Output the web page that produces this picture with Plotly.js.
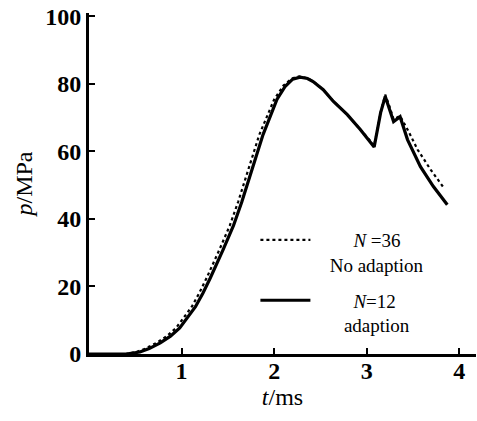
<!DOCTYPE html>
<html>
<head>
<meta charset="utf-8">
<script src="https://cdn.plot.ly/plotly-3.0.1.min.js"></script>
<style>html,body{margin:0;padding:0;background:#fff;}#chart{width:477px;height:421px;}</style>
</head>
<body>
<div id="chart"></div>
<script>
// N=12, adaption (solid)
const tSolid = [0, 0.4, 0.55, 0.65, 0.77, 0.88, 0.98, 1.06, 1.15, 1.23, 1.31, 1.45, 1.56, 1.65, 1.74, 1.88, 2.03, 2.12, 2.2, 2.28, 2.36, 2.42, 2.53, 2.64, 2.79, 2.93, 3.08, 3.15, 3.2, 3.25, 3.29, 3.36, 3.44, 3.58, 3.72, 3.87];
const pSolid = [0, 0, 0.6, 1.6, 3.3, 5.3, 7.7, 10.5, 14, 18, 22.5, 31, 38, 45, 53, 65, 75.4, 79.3, 81.4, 82, 81.6, 80.7, 78.3, 74.8, 70.9, 66.5, 61.3, 71.5, 76.3, 72.4, 68.8, 70.3, 63.5, 55.5, 49.6, 44.2];
// N=36, no adaption (dotted)
const tDot = [0, 0.4, 0.51, 0.61, 0.73, 0.84, 0.94, 1.02, 1.11, 1.19, 1.27, 1.41, 1.52, 1.61, 1.70, 1.84, 2.0, 2.1, 2.19, 2.27, 2.36, 2.42, 2.53, 2.64, 2.79, 2.93, 3.08, 3.15, 3.2, 3.25, 3.29, 3.36, 3.45, 3.55, 3.69, 3.83];
const pDot = [0, 0, 0.6, 1.6, 3.3, 5.3, 7.7, 10.5, 14, 18, 22.5, 31, 38, 45, 53, 65, 75.4, 79.5, 81.6, 82.2, 81.7, 80.8, 78.3, 74.8, 70.9, 66.5, 61.8, 71.5, 76.8, 73, 69.5, 70.5, 66, 60.5, 54.6, 49.3];
const xTicks = [1, 2, 3, 4];
const yTicks = [0, 20, 40, 60, 80, 100];
const nameDot = '&nbsp;&nbsp;&nbsp;&nbsp;&nbsp;&nbsp;&nbsp;&nbsp;<i>N</i> =36<br>&nbsp;&nbsp;&nbsp;No adaption';
const nameSolid = '&nbsp;&nbsp;&nbsp;&nbsp;&nbsp;&nbsp;&nbsp;&nbsp;<i>N</i>=12<br>&nbsp;&nbsp;&nbsp;&nbsp;&nbsp;&nbsp;adaption';

const serif = 'Liberation Serif, Times New Roman, serif';
const traces = [
  {x: tDot, y: pDot, mode: 'lines', name: nameDot, legendgroup: 'a',
   line: {color: '#000', width: 2.2, dash: 'dot'}},
  {x: tSolid, y: pSolid, mode: 'lines', name: nameSolid, legendgroup: 'b',
   line: {color: '#000', width: 3.2}}
];
const layout = {
  width: 477, height: 421,
  margin: {l: 89, r: 1, t: 13, b: 67},
  paper_bgcolor: '#fff', plot_bgcolor: '#fff',
  font: {family: serif, color: '#000', size: 24},
  showlegend: true,
  legend: {x: 0.43, y: 0.39, xanchor: 'left', yanchor: 'top', bgcolor: 'rgba(0,0,0,0)',
           font: {family: serif, size: 19, color: '#000'}, traceorder: 'grouped',
           tracegroupgap: 8, valign: 'top', itemwidth: 50},
  xaxis: {range: [0, 4.18], tickvals: xTicks, ticktext: xTicks.map(String),
          ticks: 'inside', ticklen: 6, tickwidth: 2, tickcolor: '#000',
          showline: true, linewidth: 3, linecolor: '#000', showgrid: false, zeroline: false,
          tickfont: {family: serif, size: 24, weight: 'bold'}, ticklabelstandoff: -7,
          title: {text: '<i>t</i>/ms', font: {family: serif, size: 24}, standoff: 1}},
  yaxis: {range: [0, 101], tickvals: yTicks, ticktext: yTicks.map(String),
          ticks: 'inside', ticklen: 6, tickwidth: 2, tickcolor: '#000',
          showline: true, linewidth: 3, linecolor: '#000', showgrid: false, zeroline: false,
          tickfont: {family: serif, size: 24, weight: 'bold'},
          title: {text: '<i>p</i>/MPa', font: {family: serif, size: 24}, standoff: 6}}
};
Plotly.newPlot('chart', traces, layout, {displayModeBar: false, staticPlot: true});
</script>
</body>
</html>
